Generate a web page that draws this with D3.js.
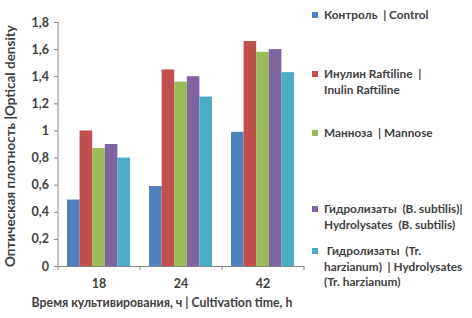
<!DOCTYPE html>
<html>
<head>
<meta charset="utf-8">
<script src="https://cdn.jsdelivr.net/npm/d3@7"></script>
<style>
  body { margin: 0; background: #fff; }
  text { font-family: Lato, "Open Sans", sans-serif; fill: #404040; }
</style>
</head>
<body>
<div id="chart"></div>
<script>
// данные
var categories = ["18", "24", "42"];
var seriesNames = [
  "Контроль | Control",
  "Инулин Raftiline | Inulin Raftiline",
  "Манноза | Mannose",
  "Гидролизаты (B. subtilis)| Hydrolysates (B. subtilis)",
  "Гидролизаты (Tr. harzianum) | Hydrolysates (Tr. harzianum)"
];
var control = [0.49, 0.59, 0.99];
var inulin = [1.0, 1.45, 1.66];
var mannose = [0.87, 1.36, 1.58];
var hydroBs = [0.9, 1.4, 1.6];
var hydroTr = [0.8, 1.25, 1.43];
var yTicks = [0, 0.2, 0.4, 0.6, 0.8, 1, 1.2, 1.4, 1.6, 1.8];
// строки легенды (как перенесено в оригинале)
var legendLines = [
  ["Контроль  | Control"],
  ["Инулин Raftiline  |", "Inulin Raftiline"],
  ["Манноза  | Mannose"],
  ["Гидролизаты  (B. subtilis)|", "Hydrolysates  (B. subtilis)"],
  [" Гидролизаты  (Tr.", "harzianum)  | Hydrolysates", "(Tr. harzianum)"]
];
var legendY = [15, 74, 133, 209, 251];

var colors = ["#4f81bd", "#c0504d", "#9bbb59", "#8064a2", "#4bacc6"];
var series = [control, inulin, mannose, hydroBs, hydroTr];

var width = 472, height = 318;
var svg = d3.select("#chart").append("svg")
  .attr("width", width).attr("height", height);

var x = d3.scaleBand().domain(categories).range([58, 304]).padding(0);
var x1 = d3.scaleBand().domain(d3.range(series.length)).range([9, 72]).padding(0);
var y = d3.scaleLinear().domain([0, 1.8]).range([266, 22]);

// столбцы
var groups = svg.append("g").selectAll("g")
  .data(categories).enter().append("g")
  .attr("transform", function (d) { return "translate(" + x(d) + ",0)"; });

groups.selectAll("rect")
  .data(function (d, i) { return series.map(function (s, k) { return { k: k, v: s[i] }; }); })
  .enter().append("rect")
  .attr("x", function (d) { return x1(d.k); })
  .attr("width", x1.bandwidth())
  .attr("y", function (d) { return y(d.v); })
  .attr("height", function (d) { return y(0) - y(d.v); })
  .attr("fill", function (d) { return colors[d.k]; });

// ось Y
var yAxis = svg.append("g")
  .attr("transform", "translate(58,0)")
  .call(d3.axisLeft(y).tickValues(yTicks).tickSize(4).tickPadding(5)
    .tickFormat(function (d) { return String(d).replace(".", ","); }));
yAxis.select(".domain").attr("stroke", "#868686").attr("d", "M0,22V266");
yAxis.selectAll(".tick line").attr("stroke", "#868686");
yAxis.selectAll(".tick text")
  .style("font-size", "12.5px").style("font-weight", "bold").attr("fill", "#404040");

// ось X
var xAxis = svg.append("g")
  .attr("transform", "translate(0,266)")
  .call(d3.axisBottom(x).tickSize(0).tickPadding(13));
xAxis.select(".domain").attr("stroke", "#868686");
xAxis.selectAll(".tick text")
  .style("font-size", "12.5px").style("font-weight", "bold").attr("fill", "#404040");
xAxis.selectAll(".edge")
  .data(x.range().concat(categories.slice(1).map(function (d) { return x(d); })))
  .enter().append("line")
  .attr("x1", function (d) { return d; }).attr("x2", function (d) { return d; })
  .attr("y1", 0).attr("y2", 4).attr("stroke", "#868686");

// подписи осей
svg.append("text")
  .attr("transform", "translate(15,146) rotate(-90)")
  .attr("text-anchor", "middle")
  .style("font-size", "13.5px").style("font-weight", "bold")
  .text("Оптическая плотность |Optical density");

svg.append("text")
  .attr("x", 162).attr("y", 307)
  .attr("text-anchor", "middle")
  .style("font-size", "12.3px").style("font-weight", "bold")
  .text("Время культивирования, ч | Cultivation time, h");

// легенда
var legend = svg.append("g").selectAll("g")
  .data(seriesNames).enter().append("g")
  .attr("transform", function (d, i) { return "translate(312," + legendY[i] + ")"; });

legend.append("rect")
  .attr("x", 0).attr("y", -3).attr("width", 6).attr("height", 6)
  .attr("fill", function (d, i) { return colors[i]; });

legend.append("text")
  .style("font-size", "11.8px").style("font-weight", "bold")
  .attr("xml:space", "preserve")
  .selectAll("tspan")
  .data(function (d, i) { return legendLines[i]; })
  .enter().append("tspan")
  .attr("x", 12)
  .attr("y", function (d, j) { return 4 + j * 15.5; })
  .text(function (d) { return d; });
</script>
</body>
</html>
